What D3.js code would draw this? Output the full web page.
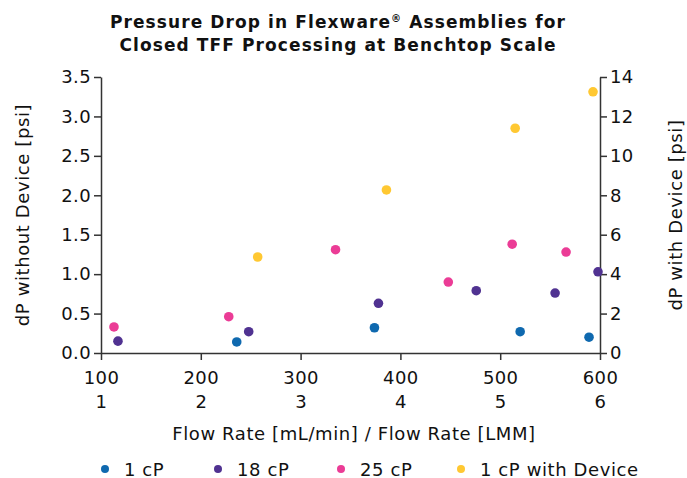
<!DOCTYPE html>
<html>
<head>
<meta charset="utf-8">
<script src="https://cdn.jsdelivr.net/npm/d3@7"></script>
<style>
  body { margin: 0; background: #fff; }
  svg text { font-family: Verdana, "DejaVu Sans", sans-serif; fill: #111; }
  .axis path, .axis line { stroke: #333; stroke-width: 1.5; }
  .axis text { font-size: 18px; letter-spacing: 0.4px; }
</style>
</head>
<body>
<div id="chart"></div>
<script>
// flow rate [mL/min] and dP [psi] per series
const series = ['1 cP', '18 cP', '25 cP', '1 cP with Device']
const colors = ['#0f69af', '#503291', '#eb3c96', '#ffc832']

const flow1cP = [236, 374, 520, 589]
const dp1cP = [0.14, 0.32, 0.27, 0.20]

const flow18cP = [117, 248, 378, 476, 555, 598]
const dp18cP = [0.15, 0.27, 0.63, 0.79, 0.76, 1.03]

const flow25cP = [113, 228, 335, 448, 512, 566]
const dp25cP = [0.33, 0.46, 1.31, 0.90, 1.38, 1.28]

// right axis series
const flowDevice = [257, 386, 515, 593]
const dpDevice = [4.87, 8.27, 11.4, 13.25]

const xTicks = [100, 200, 300, 400, 500, 600]
const yLeftTicks = [0, 0.5, 1, 1.5, 2, 2.5, 3, 3.5]
const yRightTicks = [0, 2, 4, 6, 8, 10, 12, 14]

const width = 687, height = 478
const margin = { top: 77, right: 87, bottom: 125, left: 101 }
const innerW = width - margin.left - margin.right
const innerH = height - margin.top - margin.bottom

const svg = d3.select('#chart').append('svg')
    .attr('width', width)
    .attr('height', height)

// title
const titleStyle = t => t
    .attr('text-anchor', 'middle')
    .style('font-size', '17px')
    .style('font-weight', 'bold')
    .style('letter-spacing', '1.1px')
const title = svg.append('text')
    .attr('x', 338)
    .attr('y', 28)
    .call(titleStyle)
title.append('tspan').text('Pressure Drop in Flexware')
title.append('tspan').text('®').style('font-size', '10px').attr('dy', -6)
title.append('tspan').text(' Assemblies for').attr('dy', 6)
svg.append('text')
    .attr('x', 338)
    .attr('y', 51)
    .call(titleStyle)
    .text('Closed TFF Processing at Benchtop Scale')

const g = svg.append('g')
    .attr('transform', `translate(${margin.left},${margin.top})`)

const x = d3.scaleLinear().domain([100, 600]).range([0, innerW])
const yL = d3.scaleLinear().domain([0, 3.5]).range([innerH, 0])
const yR = d3.scaleLinear().domain([0, 14]).range([innerH, 0])

// bottom axis with two label rows
const xAxisG = g.append('g')
    .attr('class', 'axis')
    .attr('transform', `translate(0,${innerH})`)
    .call(d3.axisBottom(x).tickValues(xTicks).tickSize(7).tickSizeOuter(0).tickFormat(''))
xAxisG.selectAll('.tick').each(function (d) {
  const t = d3.select(this).append('text')
      .attr('fill', '#111')
      .attr('text-anchor', 'middle')
  t.append('tspan').attr('x', 0).attr('y', 31).text(d)
  t.append('tspan').attr('x', 0).attr('y', 55).text(d / 100)
})

g.append('g')
    .attr('class', 'axis')
    .call(d3.axisLeft(yL).tickValues(yLeftTicks).tickSize(7).tickSizeOuter(0).tickFormat(d3.format('.1f')))

g.append('g')
    .attr('class', 'axis')
    .attr('transform', `translate(${innerW},0)`)
    .call(d3.axisRight(yR).tickValues(yRightTicks).tickSize(7).tickSizeOuter(0))

// axis titles
const labelStyle = t => t
    .attr('text-anchor', 'middle')
    .style('font-size', '18px')
    .style('letter-spacing', '0.6px')

svg.append('text')
    .attr('x', 354)
    .attr('y', 440)
    .call(labelStyle)
    .text('Flow Rate [mL/min] / Flow Rate [LMM]')

svg.append('text')
    .attr('transform', `translate(29,${margin.top + innerH / 2}) rotate(-90)`)
    .call(labelStyle)
    .text('dP without Device [psi]')

svg.append('text')
    .attr('transform', `translate(682,${margin.top + innerH / 2}) rotate(-90)`)
    .call(labelStyle)
    .text('dP with Device [psi]')

// points
const groups = [
  { xs: flow1cP, ys: dp1cP, y: yL, c: colors[0] },
  { xs: flow18cP, ys: dp18cP, y: yL, c: colors[1] },
  { xs: flow25cP, ys: dp25cP, y: yL, c: colors[2] },
  { xs: flowDevice, ys: dpDevice, y: yR, c: colors[3] }
]
groups.forEach(s => {
  g.append('g').selectAll('circle')
      .data(s.xs.map((v, i) => [v, s.ys[i]]))
      .enter()
      .append('circle')
      .attr('cx', d => x(d[0]))
      .attr('cy', d => s.y(d[1]))
      .attr('r', 4.8)
      .attr('fill', s.c)
})

// legend
const legendX = [105, 218, 341, 461]
const legend = svg.append('g').selectAll('g')
    .data(series)
    .enter()
    .append('g')
    .attr('transform', (d, i) => `translate(${legendX[i]},469)`)
legend.append('circle')
    .attr('r', 4)
    .attr('fill', (d, i) => colors[i])
legend.append('text')
    .attr('x', 19)
    .attr('y', 6.5)
    .style('font-size', '18px')
    .style('letter-spacing', '0.6px')
    .text(d => d)
</script>
</body>
</html>
